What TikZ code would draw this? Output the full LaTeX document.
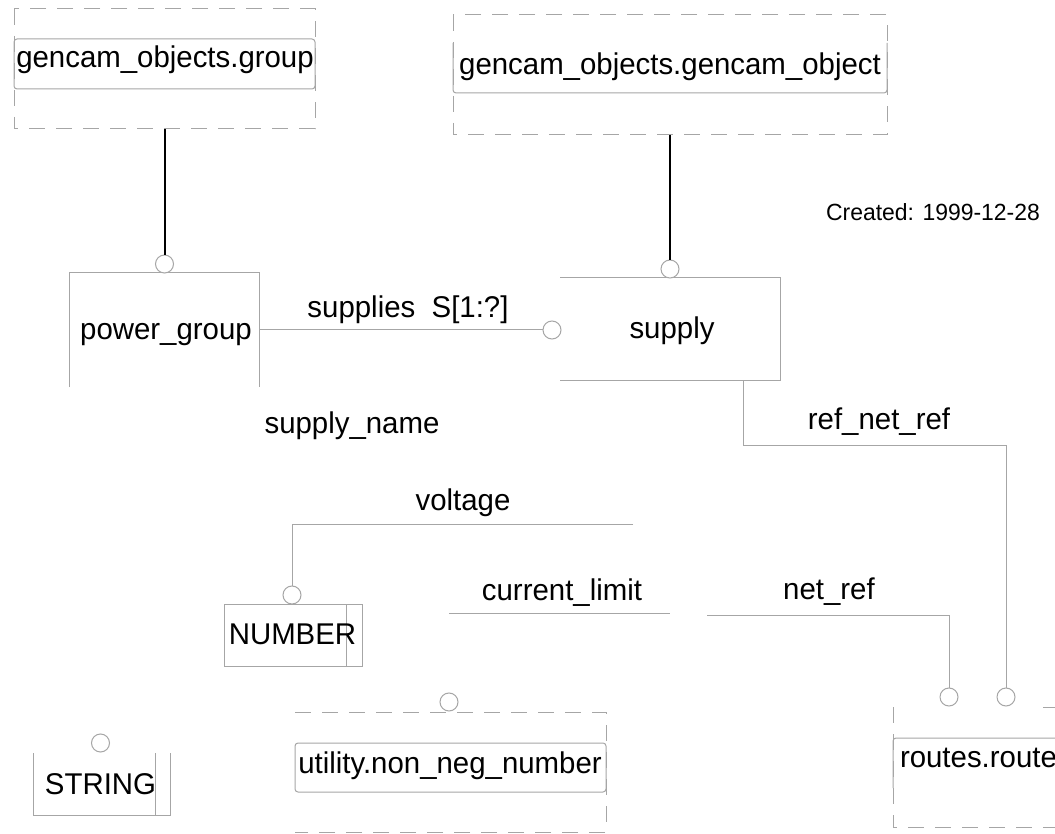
\documentclass[tikz,border=0pt]{standalone}
\usepackage{fontspec}
\setmainfont{Liberation Sans}[FakeStretch=0.98]
\usetikzlibrary{calc}
\definecolor{lg}{HTML}{A6A6A6}
\begin{document}
\begin{tikzpicture}[x=1pt,y=-1pt,
  lbl/.style={inner sep=0pt, outer sep=0pt, font=\fontsize{30}{35}\selectfont, text height=21pt, text depth=6pt},
  small/.style={inner sep=0pt, outer sep=0pt, font=\fontsize{23.4}{28}\selectfont},
  gline/.style={draw=lg, line width=1pt},
  bline/.style={draw=black, line width=2pt},
  dbox/.style={draw=lg, line width=1pt, dash pattern=on 16pt off 11pt},
  frame/.style={rectangle, inner sep=0pt, outer sep=0pt},
  circ/.style={circle, draw=lg, fill=white, line width=1pt, minimum size=18pt, inner sep=0pt, outer sep=0pt}
]
\useasboundingbox (0,0) rectangle (1055,834);
\clip (0,0) rectangle (1055,834);
\fill[white] (0,0) rectangle (1055,834);

% ---------- frames (invisible nodes) ----------
\node[frame, minimum width=301pt, minimum height=120pt] (grpO) at (164.5,69) {};
\node[frame, minimum width=301pt, minimum height=50pt] (grpI) at (164.5,64) {};
\node[frame, minimum width=434pt, minimum height=120pt] (gcoO) at (670,75) {};
\node[frame, minimum width=434pt, minimum height=50pt] (gcoI) at (670,68) {};
\node[frame, minimum width=190pt, minimum height=114pt] (pg) at (164,330) {};
\node[frame, minimum width=220pt, minimum height=102pt] (sup) at (670,329) {};
\node[frame, minimum width=138pt, minimum height=62pt] (num) at (293,635) {};
\node[frame, minimum width=137pt, minimum height=62pt] (str) at (101.5,784) {};
\node[frame, minimum width=311pt, minimum height=120pt] (utilO) at (450.5,772) {};
\node[frame, minimum width=311pt, minimum height=49pt] (utilI) at (450.5,767.5) {};
\node[frame, minimum width=187pt, minimum height=120pt] (routeO) at (986.5,767) {};
\node[frame, minimum width=187pt, minimum height=50pt] (routeI) at (986.5,763) {};

% ---------- outlines ----------
\draw[dbox] (grpO.north west) rectangle (grpO.south east);
\draw[gline, rounded corners=3pt] (grpI.north west) rectangle (grpI.south east);
\draw[dbox] (gcoO.north west) rectangle (gcoO.south east);
\draw[gline, rounded corners=3pt] (gcoI.north west) -- (gcoI.south west) -- (gcoI.south east) -- (gcoI.north east);
\draw[gline] (pg.south west) -- (pg.north west) -- (pg.north east) -- (pg.south east);
\draw[gline] (sup.north west) -- (sup.north east) -- (sup.south east) -- (sup.south west);
\draw[gline] (num.north west) rectangle (num.south east);
\draw[gline] ($(num.north east)+(-16,0)$) -- ($(num.south east)+(-16,0)$);
\draw[gline] (str.north west) -- (str.south west) -- (str.south east) -- (str.north east);
\draw[gline] ($(str.north east)+(-15,0)$) -- ($(str.south east)+(-15,0)$);
\draw[dbox] (utilO.north west) -- (utilO.north east) -- (utilO.south east) -- (utilO.south west);
\draw[gline, rounded corners=3pt] (utilI.north west) rectangle (utilI.south east);
\draw[dbox] (routeO.north west) -- (routeO.south west) -- (routeO.south east);
\draw[dbox] ($(routeO.north west)+(150,0)$) -- (routeO.north east);
\draw[gline, rounded corners=3pt] (routeI.south west) -- (routeI.north west) -- (routeI.north east);

% ---------- circles ----------
\node[circ] (c1) at (164.5,264) {};
\node[circ] (c2) at (670,269) {};
\node[circ] (c3) at (552,330) {};
\node[circ] (c4) at (292,595) {};
\node[circ] (c5) at (949,697) {};
\node[circ] (c6) at (1006,697) {};
\node[circ] (c7) at (449,702) {};
\node[circ] (c8) at (100.5,743) {};

% ---------- free ends ----------
\coordinate (vend) at (633,524);
\coordinate (cl1) at (449,613);
\coordinate (cl2) at (670,613);
\coordinate (nstart) at (707,615);
\coordinate (refs) at (743,380);

% ---------- connectors ----------
\draw[bline] (grpO.south) -- (c1.north);
\draw[bline] (gcoO.south) -- (c2.north);
\draw[gline] (pg.east) -- (c3.west);
\draw[gline] (vend) -| (c4.north);
\draw[gline] (cl1) -- (cl2);
\draw[gline] (nstart) -| (c5.north);
\draw[gline] (refs) -- ++(0,65) -| (c6.north);

% ---------- texts ----------
\node[lbl] (tgrp) at (165,60.5) {gencam\_objects.group};
\node[lbl] (tgco) at (670,67.5) {gencam\_objects.gencam\_object};
\node[small] (tcr) at (933,212.5) {Created: 1999-12-28};
\node[lbl] (tpg) at (166,332.5) {power\_group};
\node[lbl] (tsup) at (408,310.5) {supplies\ \ S[1:?]};
\node[lbl] (tsupply) at (672,330.5) {supply};
\node[lbl] (tsname) at (352,425.5) {supply\_name};
\node[lbl] (tref) at (879,421.5) {ref\_net\_ref};
\node[lbl] (tvolt) at (463,502.5) {voltage};
\node[lbl] (tcurr) at (562,592.5) {current\_limit};
\node[lbl] (tnet) at (829,591.5) {net\_ref};
\node[lbl] (tnum) at (292.5,636.5) {NUMBER};
\node[lbl] (tstr) at (100.5,786.5) {STRING};
\node[lbl] (tutil) at (450,765.5) {utility.non\_neg\_number};
\node[lbl, anchor=west] (troute) at (900,759.5) {routes.route};
\end{tikzpicture}
\end{document}
